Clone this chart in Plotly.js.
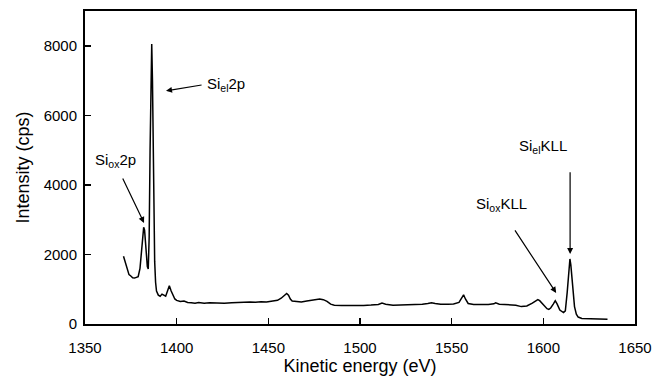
<!DOCTYPE html>
<html>
<head>
<meta charset="utf-8">
<script src="https://cdn.plot.ly/plotly-3.0.1.min.js"></script>
<style>html,body{margin:0;padding:0;background:#fff}#chart{width:663px;height:376px}</style>
</head>
<body>
<div id="chart"></div>
<script>
// Kinetic energy (eV)
var energy = [1371,1372,1373,1374,1375,1376,1377,1378,1379,1380,1381,1382,1382.5,1383,1384,1384.5,1385,1385.5,1386,1386.4,1386.8,1387.2,1387.6,1388,1388.5,1389,1390,1391,1392,1393,1394,1395,1396,1397,1398,1399,1400,1402,1404,1406,1408,1410,1412,1415,1418,1420,1423,1426,1430,1433,1436,1440,1443,1446,1449,1452,1455,1457,1459,1460,1461,1462,1463,1465,1468,1471,1474,1476,1478,1480,1482,1484,1486,1490,1494,1498,1502,1506,1510,1512,1514,1518,1522,1526,1530,1534,1537,1539,1541,1544,1548,1551,1554,1555.5,1556.5,1557.5,1559,1562,1566,1570,1573,1574,1576,1579,1582,1585,1588,1591,1594,1596,1597,1598,1600,1602,1603,1604,1605.5,1606.5,1607.5,1609,1611,1612,1613,1614,1614.5,1615,1616,1617,1618,1619,1621,1625,1630,1635];
// Intensity (cps)
var intensity = [1950,1750,1550,1420,1380,1330,1320,1330,1360,1600,2300,2780,2700,2250,1650,1580,2500,5000,7400,8050,7000,5000,3000,1800,1200,950,830,800,860,820,800,950,1100,950,820,720,680,650,660,620,610,600,615,600,610,605,615,600,610,620,615,630,625,640,630,650,680,740,820,880,830,720,660,640,630,660,680,700,720,700,650,570,540,535,530,540,535,545,560,600,570,540,550,540,555,570,590,610,590,570,565,575,620,760,840,720,590,560,555,560,580,610,570,555,560,540,500,520,600,680,700,670,560,440,420,460,580,670,580,400,330,380,900,1600,1870,1700,1000,500,280,200,160,150,145,140];

var xTicks = [1350,1400,1450,1500,1550,1600,1650];
var yTicks = [0,2000,4000,6000,8000];

// Peak labels: text, label position, arrow tail, arrow tip
var labelText = ['Si<sub>el</sub>2p','Si<sub>ox</sub>2p','Si<sub>ox</sub>KLL','Si<sub>el</sub>KLL'];
var labelX = [1415.5,1366.9,1577,1599.9];
var labelY = [6900,4690,3450,5090];
var labelAnchor = ['left','center','center','center'];
var tailX = [1414.4,1370.2,1584.0,1614.6];
var tailY = [6880,4230,2734,4403];
var tipX = [1394.2,1382.2,1607.0,1614.6];
var tipY = [6705,2907,892,2015];

var font = 'Liberation Sans, Arial, sans-serif';
var annotations = [];
for (var i = 0; i < labelText.length; i++) {
  annotations.push({
    x: labelX[i], y: labelY[i], xref: 'x', yref: 'y',
    text: labelText[i], showarrow: false, xanchor: labelAnchor[i], yanchor: 'middle',
    font: {family: font, size: 15, color: '#000'}
  });
  annotations.push({
    x: tipX[i], y: tipY[i], xref: 'x', yref: 'y',
    ax: tailX[i], ay: tailY[i], axref: 'x', ayref: 'y',
    text: '', showarrow: true, arrowhead: 2, arrowsize: 1, arrowwidth: 1.2, arrowcolor: '#000'
  });
}

var trace = {
  x: energy, y: intensity, type: 'scatter', mode: 'lines',
  line: {color: '#000', width: 1.5}, hoverinfo: 'skip'
};

var layout = {
  width: 663, height: 376,
  margin: {l: 85, r: 28, t: 11, b: 52},
  paper_bgcolor: '#fff', plot_bgcolor: '#fff',
  showlegend: false,
  font: {family: font, size: 15, color: '#000'},
  xaxis: {
    range: [1350, 1650], tickvals: xTicks, ticktext: xTicks.map(String),
    ticks: 'inside', ticklen: 6, tickwidth: 1.5, tickcolor: '#000',
    showline: true, linecolor: '#000', linewidth: 2, mirror: true,
    showgrid: false, zeroline: false, automargin: false,
    ticklabelstandoff: 9,
    tickfont: {family: font, size: 15, color: '#000'},
    title: {text: 'Kinetic energy (eV)', font: {family: font, size: 18, color: '#000'}, standoff: 2}
  },
  yaxis: {
    range: [0, 9000], tickvals: yTicks, ticktext: yTicks.map(String),
    ticks: 'inside', ticklen: 6, tickwidth: 1.5, tickcolor: '#000',
    showline: true, linecolor: '#000', linewidth: 2, mirror: true,
    showgrid: false, zeroline: false, automargin: false,
    ticklabelstandoff: 3,
    tickfont: {family: font, size: 15, color: '#000'},
    title: {text: 'Intensity (cps)', font: {family: font, size: 18, color: '#000'}, standoff: 9}
  },
  annotations: annotations
};

Plotly.newPlot('chart', [trace], layout, {displayModeBar: false, staticPlot: true});
</script>
</body>
</html>
